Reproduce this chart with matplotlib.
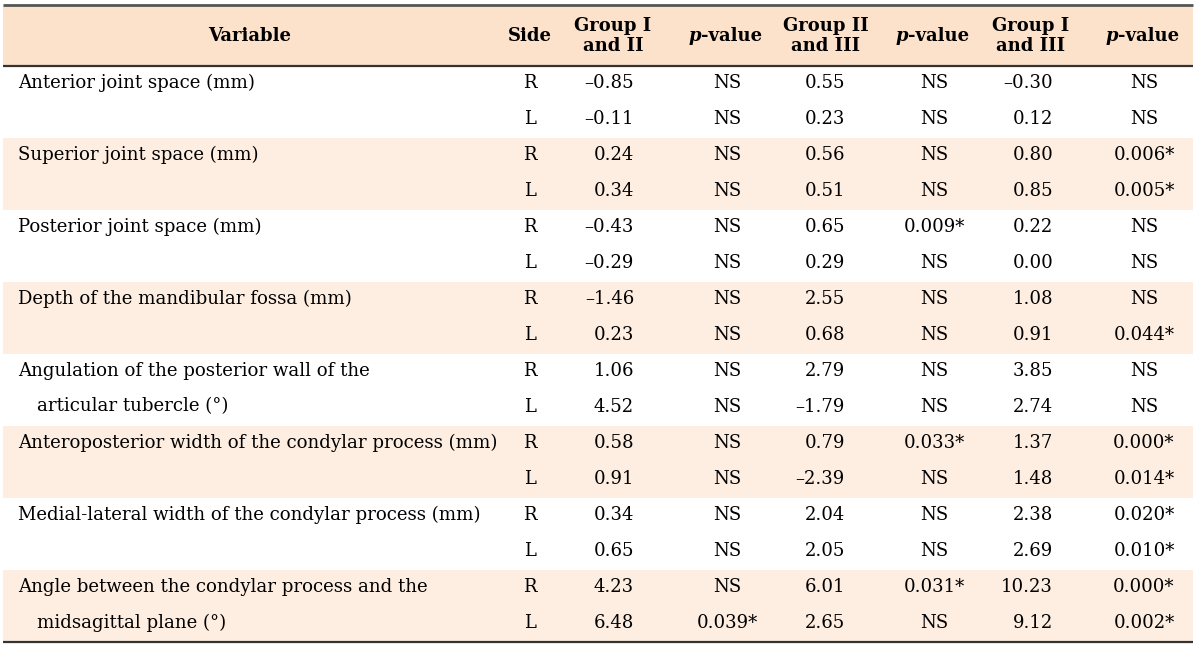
import matplotlib
matplotlib.use("Agg")
import matplotlib.pyplot as plt
from matplotlib.offsetbox import TextArea, HPacker, AnnotationBbox

variables = [
    ("Anterior joint space (mm)", ""),
    ("Superior joint space (mm)", ""),
    ("Posterior joint space (mm)", ""),
    ("Depth of the mandibular fossa (mm)", ""),
    ("Angulation of the posterior wall of the", "articular tubercle (°)"),
    ("Anteroposterior width of the condylar process (mm)", ""),
    ("Medial-lateral width of the condylar process (mm)", ""),
    ("Angle between the condylar process and the", "midsagittal plane (°)"),
]
sides = ["R", "L"]
g12 = [-0.85, -0.11, 0.24, 0.34, -0.43, -0.29, -1.46, 0.23, 1.06, 4.52, 0.58, 0.91, 0.34, 0.65, 4.23, 6.48]
p12 = ["NS", "NS", "NS", "NS", "NS", "NS", "NS", "NS", "NS", "NS", "NS", "NS", "NS", "NS", "NS", "0.039*"]
g23 = [0.55, 0.23, 0.56, 0.51, 0.65, 0.29, 2.55, 0.68, 2.79, -1.79, 0.79, -2.39, 2.04, 2.05, 6.01, 2.65]
p23 = ["NS", "NS", "NS", "NS", "0.009*", "NS", "NS", "NS", "NS", "NS", "0.033*", "NS", "NS", "NS", "0.031*", "NS"]
g13 = [-0.30, 0.12, 0.80, 0.85, 0.22, 0.00, 1.08, 0.91, 3.85, 2.74, 1.37, 1.48, 2.38, 2.69, 10.23, 9.12]
p13 = ["NS", "NS", "0.006*", "0.005*", "NS", "NS", "NS", "0.044*", "NS", "NS", "0.000*", "0.014*", "0.020*", "0.010*", "0.000*", "0.002*"]
headers = ["Variable", "Side", "Group I\nand II", "p-value", "Group II\nand III", "p-value", "Group I\nand III", "p-value"]

FONT = "DejaVu Serif"
FS = 13.1
HFS = 13.0
HEAD_BG = "#fde2cb"
BAND_BG = "#feeee2"
LINE_C = "#555555"

fig = plt.figure(figsize=(12, 6.48), dpi=100)
ax = fig.add_axes([0, 0, 1, 1])
ax.set_xlim(0, 1200)
ax.set_ylim(648, 0)
ax.axis("off")

x0, x1 = 3, 1193
top, head_bot = 5, 66
row_h = 36.0
n_rows = len(g12)
bottom = head_bot + n_rows * row_h

# backgrounds
ax.add_patch(plt.Rectangle((x0, top), x1 - x0, head_bot - top, color=HEAD_BG, lw=0, zorder=0))
for gi in range(len(variables)):
    if gi % 2 == 1:
        y = head_bot + gi * 2 * row_h
        ax.add_patch(plt.Rectangle((x0, y), x1 - x0, 2 * row_h, color=BAND_BG, lw=0, zorder=0))

# rules
ax.plot([x0, x1], [top, top], color=LINE_C, lw=2.0, solid_capstyle="butt")
ax.plot([x0, x1], [head_bot, head_bot], color="#333333", lw=1.6, solid_capstyle="butt")
ax.plot([x0, x1], [bottom, bottom], color="#333333", lw=1.6, solid_capstyle="butt")

# header
hy = (top + head_bot) / 2 + 0.5
group_cx = [613, 826, 1031]
p_cx = [725, 932, 1142]
ax.text(250, hy, headers[0], ha="center", va="center", fontsize=HFS, fontweight="bold", family=FONT)
ax.text(530, hy, headers[1], ha="center", va="center", fontsize=HFS, fontweight="bold", family=FONT)
for i, cx in enumerate(group_cx):
    ax.text(cx, hy, headers[2 + 2 * i], ha="center", va="center", fontsize=HFS, fontweight="bold",
            family=FONT, linespacing=1.2)
for cx in p_cx:
    ta1 = TextArea("p", textprops=dict(fontsize=HFS, fontweight="bold", fontstyle="italic", family=FONT))
    ta2 = TextArea("-value", textprops=dict(fontsize=HFS, fontweight="bold", family=FONT))
    box = HPacker(children=[ta1, ta2], pad=0, sep=0, align="baseline")
    ab = AnnotationBbox(box, (cx, hy), frameon=False, box_alignment=(0.5, 0.5), pad=0)
    ax.add_artist(ab)

def fmt(v):
    s = f"{v:.2f}"
    return s.replace("-", "\u2013")

num_right = [634, 845, 1053]
for r in range(n_rows):
    yc = head_bot + r * row_h + row_h / 2 - 1.5
    gi, si = divmod(r, 2)
    name = variables[gi][si]
    if name:
        xx = 18 if si == 0 else 37
        ax.text(xx, yc, name, ha="left", va="center", fontsize=FS, family=FONT)
    ax.text(530, yc, sides[si], ha="center", va="center", fontsize=FS, family=FONT)
    for j, (gv, pv) in enumerate([(g12, p12), (g23, p23), (g13, p13)]):
        ax.text(num_right[j], yc, fmt(gv[r]), ha="right", va="center", fontsize=FS, family=FONT)
        ax.text(p_cx[j] + 2, yc, pv[r], ha="center", va="center", fontsize=FS, family=FONT)

fig.savefig("out.png", dpi=100)
